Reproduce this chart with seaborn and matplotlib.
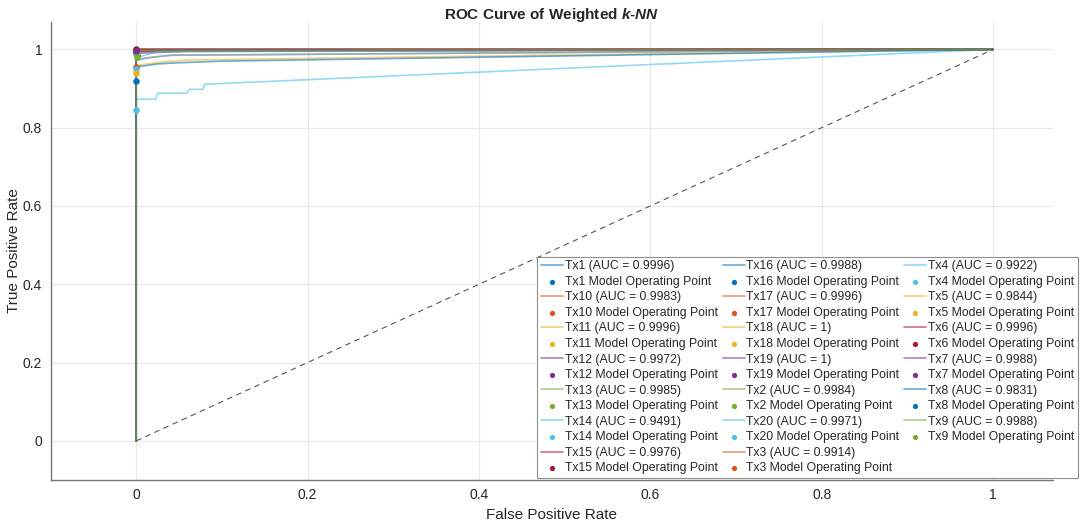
import matplotlib
matplotlib.use("Agg")
import numpy as np
import pandas as pd
import matplotlib.pyplot as plt
import seaborn as sns
from matplotlib.lines import Line2D

# --- Data ---
labels = ["Tx1", "Tx10", "Tx11", "Tx12", "Tx13", "Tx14", "Tx15", "Tx16", "Tx17", "Tx18",
          "Tx19", "Tx2", "Tx20", "Tx3", "Tx4", "Tx5", "Tx6", "Tx7", "Tx8", "Tx9"]
auc_text = ["0.9996", "0.9983", "0.9996", "0.9972", "0.9985", "0.9491", "0.9976", "0.9988",
            "0.9996", "1", "1", "0.9984", "0.9971", "0.9914", "0.9922", "0.9844", "0.9996",
            "0.9988", "0.9831", "0.9988"]
color_names = ["blue", "orange", "yellow", "purple", "green", "lightblue", "darkred",
               "blue", "orange", "yellow", "purple", "green", "lightblue", "orange",
               "lightblue", "yellow", "darkred", "purple", "blue", "green"]

roc_fpr = {
    "Tx1": [0, 0, 1], "Tx10": [0, 0, 0.02, 1], "Tx11": [0, 0, 1], "Tx12": [0, 0, 0.06, 1],
    "Tx13": [0, 0, 1],
    "Tx14": [0, 0, 0.023, 0.025, 0.059, 0.062, 0.078, 0.08, 1],
    "Tx15": [0, 0, 1], "Tx16": [0, 0, 1], "Tx17": [0, 0, 1], "Tx18": [0, 0, 1],
    "Tx19": [0, 0, 1], "Tx2": [0, 0, 1], "Tx20": [0, 0, 0.025, 1],
    "Tx3": [0, 0, 0.01, 0.04, 1], "Tx4": [0, 0, 0.02, 0.04, 1],
    "Tx5": [0, 0, 0.01, 0.03, 0.06, 1], "Tx6": [0, 0, 1], "Tx7": [0, 0, 0.03, 1],
    "Tx8": [0, 0, 0.025, 0.05, 0.1, 1], "Tx9": [0, 0, 1],
}
roc_tpr = {
    "Tx1": [0, 0.9992, 1], "Tx10": [0, 0.993, 0.997, 1], "Tx11": [0, 0.9992, 1],
    "Tx12": [0, 0.99, 0.995, 1], "Tx13": [0, 0.997, 1],
    "Tx14": [0, 0.873, 0.873, 0.888, 0.888, 0.898, 0.898, 0.911, 1],
    "Tx15": [0, 0.9952, 1], "Tx16": [0, 0.9976, 1], "Tx17": [0, 0.9992, 1],
    "Tx18": [0, 1, 1], "Tx19": [0, 1, 1], "Tx2": [0, 0.9968, 1],
    "Tx20": [0, 0.979, 0.994, 1], "Tx3": [0, 0.973, 0.978, 0.985, 1],
    "Tx4": [0, 0.972, 0.98, 0.985, 1], "Tx5": [0, 0.958, 0.962, 0.968, 0.973, 1],
    "Tx6": [0, 0.9992, 1], "Tx7": [0, 0.996, 0.998, 1],
    "Tx8": [0, 0.955, 0.963, 0.966, 0.97, 1], "Tx9": [0, 0.9976, 1],
}
op_fpr = [0, 0, 0, 0, 0.0015, 0, 0, 0, 0, 0, 0, 0.0015, 0, 0, 0, 0, 0, 0, 0, 0.0015]
op_tpr = [0.998, 0.99, 0.998, 0.99, 0.985, 0.845, 0.997, 0.996, 0.998, 1.0,
          1.0, 0.985, 0.99, 0.955, 0.95, 0.939, 0.999, 0.997, 0.92, 0.98]

matlab_colors = {"blue": "#0072BD", "orange": "#D95319", "yellow": "#EDB120",
                 "purple": "#7E2F8E", "green": "#77AC30", "lightblue": "#4DBEEE",
                 "darkred": "#A2142F"}

sns.set_style("white")
plt.rcParams['font.family'] = ['Liberation Sans', 'DejaVu Sans']
plt.rcParams['mathtext.fontset'] = 'custom'
plt.rcParams['mathtext.bfit'] = 'Liberation Sans:italic:bold'
plt.rcParams['mathtext.rm'] = 'Liberation Sans'

fig = plt.figure(figsize=(10.81, 5.29), dpi=100)
ax = fig.add_axes([50.5 / 1081, 49 / 529, (1053 - 50.5) / 1081, (480 - 22) / 529])

handles, leg_labels = [], []
for i, name in enumerate(labels):
    c = matlab_colors[color_names[i]]
    curve = pd.DataFrame({"fpr": roc_fpr[name], "tpr": roc_tpr[name]})
    sns.lineplot(data=curve, x="fpr", y="tpr", estimator=None, sort=False, color=c,
                 alpha=0.6, linewidth=1.2, ax=ax)
    handles.append(ax.lines[-1])
    leg_labels.append(f"{name} (AUC = {auc_text[i]})")
    sns.scatterplot(x=[op_fpr[i]], y=[op_tpr[i]], color=c, s=22, edgecolor=c, linewidth=0,
                    zorder=5, ax=ax)
    handles.append(ax.collections[-1])
    leg_labels.append(f"{name} Model Operating Point")

sns.lineplot(x=[0, 1], y=[0, 1], color="#555555", linestyle=(0, (5, 4)), linewidth=0.8,
             ax=ax)

ax.set_xlim(-0.1, 1.07)
ax.set_ylim(-0.1, 1.07)
ticks = [0, 0.2, 0.4, 0.6, 0.8, 1]
tick_labels = ["0", "0.2", "0.4", "0.6", "0.8", "1"]
ax.set_xticks(ticks)
ax.set_xticklabels(tick_labels)
ax.set_yticks(ticks)
ax.set_yticklabels(tick_labels)
ax.tick_params(direction="in", length=7, width=1, color="#aaaaaa", labelsize=10,
               labelcolor="#262626", pad=6)
ax.grid(True, color="#e8e8e8", linewidth=0.8)
ax.set_axisbelow(True)
for side in ["top", "right"]:
    ax.spines[side].set_visible(False)
for side in ["left", "bottom"]:
    ax.spines[side].set_color("#777777")
    ax.spines[side].set_linewidth(1.0)

ax.set_xlabel("False Positive Rate", fontsize=11, color="#262626", labelpad=4)
ax.set_ylabel("True Positive Rate", fontsize=11, color="#262626", labelpad=1)
ax.set_title(r"ROC Curve of Weighted $\mathbfit{k}$-$\mathbfit{NN}$", fontsize=11,
             fontweight="bold", pad=2)

# two empty slots so the columns split 14 / 14 / 12 like the reference
for _ in range(2):
    handles.append(Line2D([], [], alpha=0))
    leg_labels.append("")

leg = ax.legend(handles, leg_labels, ncol=3, loc="lower right",
                bbox_to_anchor=(1078 / 1081, 51 / 529), bbox_transform=fig.transFigure,
                fontsize=8.8, handlelength=1.8, handletextpad=0.15, columnspacing=0.4,
                labelspacing=0.29, borderpad=0.3, borderaxespad=0, fancybox=False,
                framealpha=1, edgecolor="#909090", markerscale=0.8)
leg.get_frame().set_linewidth(0.8)

plt.savefig("out.png", dpi=100)
